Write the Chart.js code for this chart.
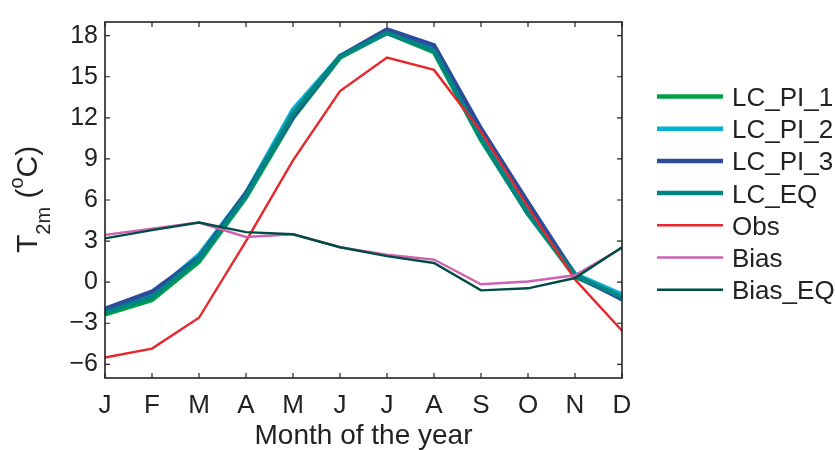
<!DOCTYPE html>
<html>
<head>
<meta charset="utf-8">
<style>
  html, body { margin: 0; padding: 0; background: #fff; }
  #wrap { width: 835px; height: 450px; }
</style>
<script src="https://cdn.jsdelivr.net/npm/chart.js@4/dist/chart.umd.min.js"></script>
</head>
<body>
<div id="wrap"><canvas id="tChart" width="835" height="450"></canvas></div>
<script>
// monthly 2m temperature
const months = ['J', 'F', 'M', 'A', 'M', 'J', 'J', 'A', 'S', 'O', 'N', 'D'];
const seriesNames = ['LC_PI_1', 'LC_PI_2', 'LC_PI_3', 'LC_EQ', 'Obs', 'Bias', 'Bias_EQ'];
const lcPi1  = [-2.35, -1.3, 1.5, 6.2, 12.0, 16.4, 18.2, 16.8, 10.4, 5.0, 0.4, -1.1];
const lcPi2  = [-2.1, -0.9, 2.0, 6.5, 12.6, 16.5, 18.3, 17.0, 10.7, 5.3, 0.6, -0.9];
const lcPi3  = [-1.95, -0.7, 1.8, 6.5, 12.1, 16.5, 18.45, 17.3, 11.2, 5.8, 0.5, -1.25];
const lcEq   = [-2.2, -1.1, 1.7, 6.3, 12.3, 16.5, 18.2, 16.9, 10.5, 5.0, 0.5, -1.1];
const obs    = [-5.5, -4.85, -2.6, 3.0, 8.9, 13.95, 16.4, 15.5, 11.0, 5.5, 0.2, -3.55];
const bias   = [3.45, 3.9, 4.35, 3.3, 3.5, 2.55, 2.0, 1.65, -0.15, 0.05, 0.5, 2.5];
const biasEq = [3.2, 3.8, 4.35, 3.65, 3.5, 2.55, 1.9, 1.4, -0.6, -0.45, 0.3, 2.55];
const yTicks = [-6, -3, 0, 3, 6, 9, 12, 15, 18];
const yMin = -7, yMax = 19;

const allSeries = [lcPi1, lcPi2, lcPi3, lcEq, obs, bias, biasEq];
const colors = ['#00a045', '#00b2d2', '#2b4b9b', '#008682', '#e8272c', '#cc62b0', '#004d46'];
const widths = [4.5, 4.5, 4.5, 4.5, 2.4, 2.4, 2.4];

const txt = '#222';
const fam = '"Liberation Sans", Arial, Helvetica, sans-serif';

const datasets = allSeries.map((d, i) => ({
  label: seriesNames[i],
  data: d,
  borderColor: colors[i],
  backgroundColor: colors[i],
  borderWidth: widths[i],
  pointRadius: 0,
  tension: 0,
  fill: false,
  order: allSeries.length - i   // later series on top, like the original
}));

// box, inward ticks, legend and y title
const decor = {
  id: 'decor',
  afterDraw(chart) {
    const ctx = chart.ctx;
    const a = chart.chartArea;
    const xs = chart.scales.x, ys = chart.scales.y;
    ctx.save();
    ctx.strokeStyle = txt;
    ctx.lineWidth = 1.6;
    ctx.strokeRect(a.left, a.top, a.right - a.left, a.bottom - a.top);
    ctx.lineWidth = 1.2;
    ctx.beginPath();
    ys.ticks.forEach(t => {
      const y = ys.getPixelForValue(t.value);
      ctx.moveTo(a.left, y); ctx.lineTo(a.left + 5, y);
      ctx.moveTo(a.right, y); ctx.lineTo(a.right - 5, y);
    });
    months.forEach((m, i) => {
      const x = xs.getPixelForValue(i);
      ctx.moveTo(x, a.bottom); ctx.lineTo(x, a.bottom - 5);
      ctx.moveTo(x, a.top); ctx.lineTo(x, a.top + 5);
    });
    ctx.stroke();

    // legend
    ctx.font = '26px ' + fam;
    ctx.fillStyle = txt;
    ctx.textBaseline = 'alphabetic';
    ctx.textAlign = 'left';
    chart.data.datasets.forEach((ds, i) => {
      const y = 96.5 + i * 32.2;
      ctx.strokeStyle = ds.borderColor;
      ctx.lineWidth = ds.borderWidth;
      ctx.beginPath();
      ctx.moveTo(657, y); ctx.lineTo(723, y);
      ctx.stroke();
      ctx.fillText(ds.label, 732, y + 9.5);
    });

    // y title: T_2m (oC)
    ctx.translate(37, 253);
    ctx.rotate(-Math.PI / 2);
    let cx = 0;
    const big = '30px ' + fam, small = '20px ' + fam;
    const part = (s, f, dy) => {
      ctx.font = f;
      ctx.fillText(s, cx, dy);
      cx += ctx.measureText(s).width;
    };
    part('T', big, 0);
    part('2m', small, 13);
    part(' (', big, 0);
    part('o', small, -14);
    part('C)', big, 0);
    ctx.restore();
  }
};

new Chart(document.getElementById('tChart'), {
  type: 'line',
  data: { labels: months, datasets: datasets },
  options: {
    responsive: false,
    animation: false,
    layout: { padding: { left: 0, right: 213, top: 7, bottom: 0 } },
    plugins: { legend: { display: false }, tooltip: { enabled: false } },
    scales: {
      x: {
        type: 'category',
        offset: false,
        grid: { display: false, drawTicks: false },
        border: { display: false },
        ticks: { color: txt, font: { family: fam, size: 26 }, padding: 12, autoSkip: false, maxRotation: 0 },
        title: { display: true, text: 'Month of the year', color: txt, font: { family: fam, size: 28 }, padding: { top: 0, bottom: -3 } },
        afterFit(s) { s.height = 72; }
      },
      y: {
        min: yMin,
        max: yMax,
        grid: { display: false, drawTicks: false },
        border: { display: false },
        afterBuildTicks(s) { s.ticks = yTicks.map(v => ({ value: v })); },
        ticks: {
          color: txt,
          font: { family: fam, size: 25 },
          padding: 7,
          callback: v => String(v).replace('-', '\u2212')
        },
        afterFit(s) { s.width = 105; }
      }
    }
  },
  plugins: [decor]
});
</script>
</body>
</html>
